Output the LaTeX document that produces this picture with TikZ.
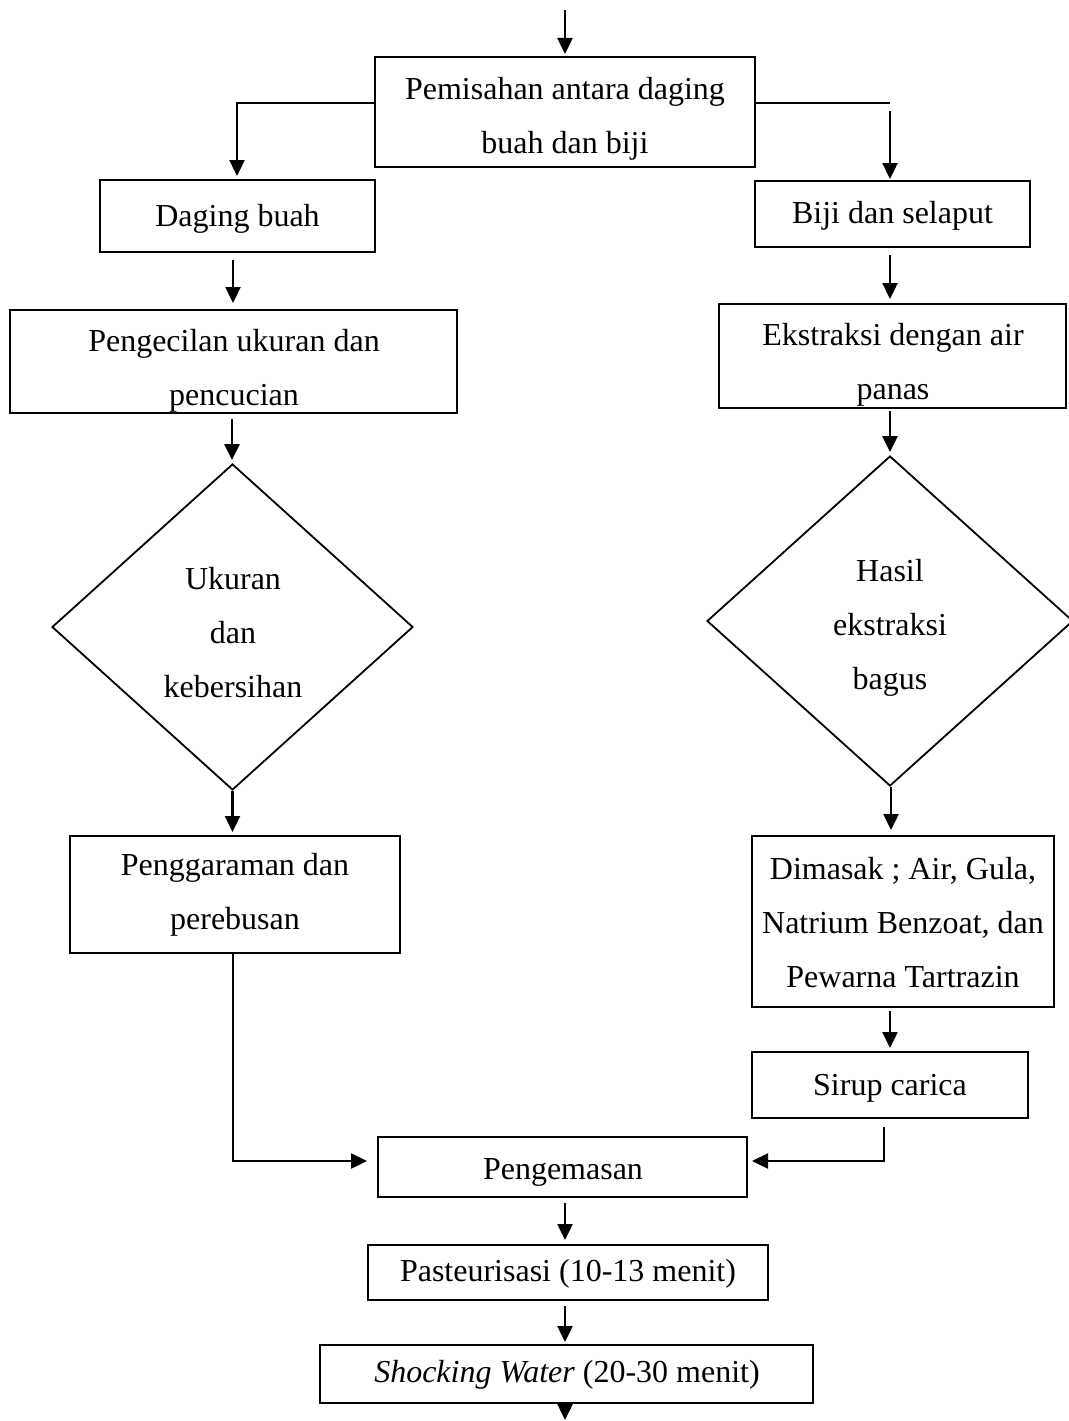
\documentclass[tikz,border=0pt]{standalone}
\usepackage{fontspec}
\setmainfont{Liberation Serif}
\usetikzlibrary{arrows.meta,shapes.geometric,calc}
\begin{document}
\begin{tikzpicture}[x=1pt,y=-1pt,
  box/.style={draw,line width=2pt,rectangle,inner sep=0pt},
  dia/.style={draw,line width=1.8pt,diamond,inner sep=0pt},
  txt/.style={align=center,inner sep=0pt,font=\fontsize{32}{54}\selectfont},
  arr/.style={line width=2.4pt,-{Triangle[width=15pt,length=16pt]}},
  thinline/.style={line width=1.2pt}]
\useasboundingbox (0,0) rectangle (1068,1421);
% boxes
\node[box,minimum width=380,minimum height=110] (b1) at (565,112) {};
\node[box,minimum width=275,minimum height=72] (db) at (237.5,216) {};
\node[box,minimum width=275,minimum height=66] (bs) at (892.5,214) {};
\node[box,minimum width=447,minimum height=103] (pc) at (233.5,361.5) {};
\node[box,minimum width=347,minimum height=104] (ek) at (892.5,356) {};
\node[dia,minimum width=361,minimum height=326] (d1) at (232.5,627) {};
\node[dia,minimum width=366,minimum height=330] (d2) at (890,621) {};
\node[box,minimum width=330,minimum height=117] (pg) at (235,894.5) {};
\node[box,minimum width=302,minimum height=171] (dm) at (903,921.5) {};
\node[box,minimum width=276,minimum height=66] (sc) at (890,1085) {};
\node[box,minimum width=369,minimum height=60] (pk) at (562.5,1167) {};
\node[box,minimum width=400,minimum height=55] (ps) at (568,1272.5) {};
\node[box,minimum width=493,minimum height=58] (sw) at (566.5,1374) {};
% texts
\node[txt] (t1) at (565,119) {Pemisahan antara daging\\buah dan biji};
\node[txt] (t2) at (237.5,219) {Daging buah};
\node[txt] (t3) at (892.5,216) {Biji dan selaput};
\node[txt] (t4) at (234,370.5) {Pengecilan ukuran dan\\pencucian};
\node[txt] (t5) at (893,364.5) {Ekstraksi dengan air\\panas};
\node[txt] (t6) at (233,633) {Ukuran\\dan\\kebersihan};
\node[txt] (t7) at (890,628) {Hasil\\ekstraksi\\bagus};
\node[txt] (t8) at (235,895) {Penggaraman dan\\perebusan};
\node[txt] (t9) at (903,923) {Dimasak ; Air, Gula,\\Natrium Benzoat, dan\\Pewarna Tartrazin};
\node[txt] (t10) at (890,1088) {Sirup carica};
\node[txt] (t11) at (563,1172) {Pengemasan};
\node[txt] (t12) at (568,1274) {Pasteurisasi (10-13 menit)};
\node[txt] (t13) at (567,1375) {\textit{Shocking Water} (20-30 menit)};
% connectors
\coordinate (top) at (565,10);
\draw[arr,shorten >=2pt] (top) -- (b1.north);
\coordinate (lc) at (237,103);
\draw[thinline] ([yshift=9pt]b1.west) -- (lc);
\draw[arr,shorten >=3pt] ([yshift=0.6pt]lc) -- (lc |- db.north);
\coordinate (rc) at (890,103);
\coordinate (rc2) at (890,111);
\draw[thinline] ([yshift=9pt]b1.east) -- (rc);
\draw[arr,shorten >=1pt] (rc2) -- (rc2 |- bs.north);
\coordinate (a1) at (233,0);
\draw[arr,shorten <=7pt,shorten >=6pt] (a1 |- db.south) -- (a1 |- pc.north);
\coordinate (a2) at (890,0);
\draw[arr,shorten <=7pt,shorten >=4pt] (a2 |- bs.south) -- (a2 |- ek.north);
\coordinate (a3) at (232,0);
\draw[arr,shorten <=5pt,shorten >=3pt] (a3 |- pc.south) -- (a3 |- d1.north);
\draw[arr,shorten <=2pt,shorten >=3pt] (a2 |- ek.south) -- (d2.north);
\draw[arr,shorten >=3pt] (d1.south) -- (d1.south |- pg.north);
\coordinate (a4) at (891,0);
\draw[arr,shorten >=5pt] (a4 |- d2.south) -- (a4 |- dm.north);
\draw[arr,shorten <=3pt,shorten >=3pt] (a2 |- dm.south) -- (a2 |- sc.north);
\coordinate (lb) at (233,1161);
\draw[thinline] (lb |- pg.south) -- (lb);
\draw[arr,shorten >=10pt] ([xshift=-0.6pt]lb) -- (lb -| pk.west);
\coordinate (rb1) at (884,1127);
\coordinate (rb2) at (884,1161);
\draw[thinline] (rb1) -- (rb2);
\draw[arr,shorten >=4pt] ([xshift=0.6pt]rb2) -- (rb2 -| pk.east);
\coordinate (a5) at (565,0);
\draw[arr,shorten <=5pt,shorten >=4pt] (a5 |- pk.south) -- (a5 |- ps.north);
\draw[arr,shorten <=5pt,shorten >=2pt] (a5 |- ps.south) -- (a5 |- sw.north);
\coordinate (bot) at (565,1420);
\draw[arr,shorten <=2pt] (a5 |- sw.south) -- (bot);
\end{tikzpicture}
\end{document}
